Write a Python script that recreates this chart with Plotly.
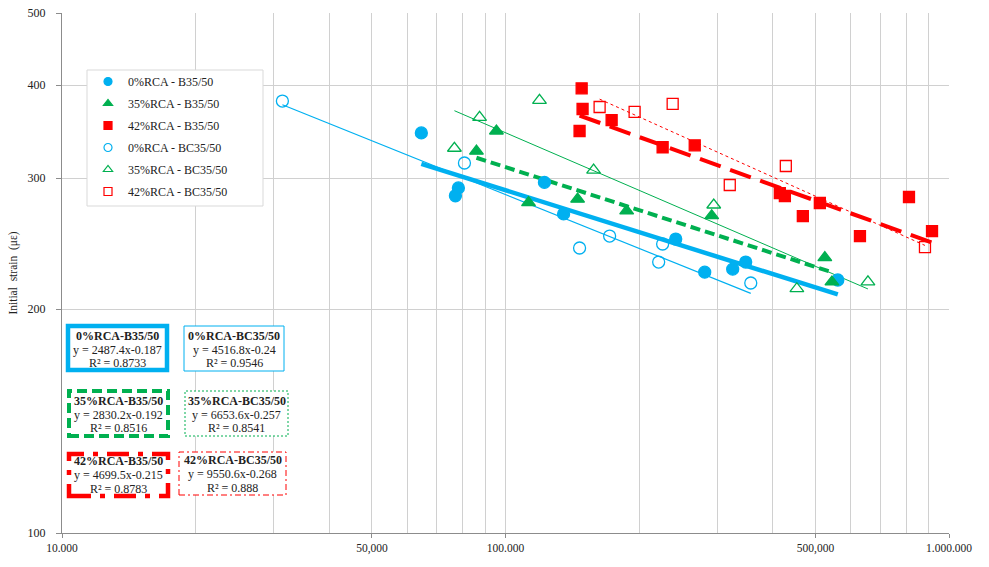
import numpy as np
import plotly.graph_objects as go

# ---------------- data ----------------
x_0B = [64600, 78300, 77100, 122400, 135200, 242000, 281300, 325300, 348000, 561400]
y_0B = [345, 291, 284, 296, 268.5, 248.4, 224.2, 226.3, 231.3, 218.8]

x_35B = [86000, 95400, 112700, 145400, 187600, 291700, 524800, 544500]
y_35B = [326, 347, 278, 281, 271, 267, 234.5, 217.5]

x_42B = [148500, 149200, 146900, 173500, 226100, 267100, 415500, 426500,
         511400, 468200, 629800, 812400, 915600]
y_42B = [396, 371.5, 347, 359, 330, 332, 286.4, 283.8, 277.7, 266.7, 250.7, 282.9, 254.6]

x_0BC = [31400, 80800, 146900, 171700, 226100, 221500, 357300]
y_0BC = [380.7, 314.3, 241.6, 250.7, 244.6, 231.3, 216.8]

x_35BC = [76700, 87400, 119300, 158000, 294800, 453900, 656500]
y_35BC = [329, 362, 381.5, 307.5, 276, 213, 217.6]

x_42BC = [163000, 195500, 238200, 320400, 428600, 882700]
y_42BC = [373.8, 368.1, 377.3, 293.6, 311.4, 242.3]

names = ["0%RCA - B35/50", "35%RCA - B35/50", "42%RCA - B35/50",
         "0%RCA - BC35/50", "35%RCA - BC35/50", "42%RCA - BC35/50"]
box_titles = ["0%RCA-B35/50", "0%RCA-BC35/50", "35%RCA-B35/50",
              "35%RCA-BC35/50", "42%RCA-B35/50", "42%RCA-BC35/50"]
# power trendline coefficients  y = a * x^b
coef_a = [2487.4, 2830.2, 4699.5, 4516.8, 6653.6, 9550.6]
coef_b = [-0.187, -0.192, -0.215, -0.24, -0.257, -0.268]
r2_text = ["0.8733", "0.8516", "0.8783", "0.9546", "0.8541", "0.888"]
eq_text = ["2487.4x-0.187", "2830.2x-0.192", "4699.5x-0.215",
           "4516.8x-0.24", "6653.6x-0.257", "9550.6x-0.268"]

x_tickvals = [10000, 50000, 100000, 500000, 1000000]
x_ticktext = ["10.000", "50,000", "100.000", "500,000", "1.000.000"]
x_minor = [20000, 30000, 40000, 60000, 70000, 80000, 90000,
           200000, 300000, 400000, 600000, 700000, 800000, 900000]
y_tickvals = [100, 200, 300, 400, 500]

# ---------------- style ----------------
BLUE, GREEN, RED = "#00B0F0", "#00B050", "#FF0000"
FONT = "Liberation Serif"
series = [
    (x_0B, y_0B, BLUE, "circle", 12, dict(width=4.5, dash="solid")),
    (x_35B, y_35B, GREEN, "triangle-up", 12, dict(width=4, dash="10px,5px")),
    (x_42B, y_42B, RED, "square", 11, dict(width=4, dash="22px,10px")),
    (x_0BC, y_0BC, BLUE, "circle-open", 12, dict(width=1.2, dash="solid")),
    (x_35BC, y_35BC, GREEN, "triangle-up-open", 12, dict(width=1, dash="solid")),
    (x_42BC, y_42BC, RED, "square-open", 11, dict(width=1, dash="3px,3px")),
]

fig = go.Figure()
# trendlines first (beneath markers)
for i, (xs, ys, col, sym, sz, ln) in enumerate(series):
    xe = np.array([min(xs), max(xs)], dtype=float)
    ye = coef_a[i] * xe ** coef_b[i]
    fig.add_trace(go.Scatter(x=xe, y=ye, mode="lines", showlegend=False,
                             line=dict(color=col, width=ln["width"], dash=ln["dash"]),
                             hoverinfo="skip"))
for i, (xs, ys, col, sym, sz, ln) in enumerate(series):
    fig.add_trace(go.Scatter(x=xs, y=ys, mode="markers", name=names[i],
                             legendgroup=str(i), showlegend=False,
                             marker=dict(symbol=sym, size=sz, color=col,
                                         line=dict(color=col, width=1.3))))
# legend entries (smaller symbols, like the reference)
for i, (xs, ys, col, sym, sz, ln) in enumerate(series):
    fig.add_trace(go.Scatter(x=[None], y=[None], mode="markers", name=names[i],
                             legendgroup=str(i), showlegend=True,
                             marker=dict(symbol=sym, size=8, color=col,
                                         line=dict(color=col, width=1.2))))

# ---------------- layout helpers (pixel -> paper) ----------------
L, R, T, B = 62, 949, 13, 533
def px(x):
    return (x - L) / (R - L)
def py(y):
    return (B - y) / (B - T)

shapes = []
# legend frame
shapes.append(dict(type="rect", xref="paper", yref="paper", layer="above",
                   x0=px(87), x1=px(263), y0=py(206), y1=py(70),
                   line=dict(color="#D9D9D9", width=1), fillcolor="white"))
# equation boxes: (x0, y0, x1, y1, color, width, dash, line-y positions)
boxes = [
    (68, 326, 167, 370, BLUE, 4.5, "solid", (336, 350, 363)),
    (184, 326, 284, 371, BLUE, 1, "solid", (336, 350, 363)),
    (69, 391, 168, 436, GREEN, 4, "10px,5px", (401, 415, 428)),
    (185, 391, 288, 436, GREEN, 1, "2px,2px", (401, 415, 428)),
    (69, 454, 168, 496, RED, 4.5, "22px,9px,5px,9px", (461, 475, 489)),
    (179, 452, 286, 495, RED, 1, "6px,3px,2px,3px", (460, 474, 488)),
]
box_series = [0, 3, 1, 4, 2, 5]
annotations = []
for k, (x0, y0, x1, y1, col, w, d, ly) in enumerate(boxes):
    shapes.append(dict(type="rect", xref="paper", yref="paper", layer="above",
                       x0=px(x0), x1=px(x1), y0=py(y1), y1=py(y0),
                       line=dict(color=col, width=w, dash=d), fillcolor="white"))
    s = box_series[k]
    lines = ["<b>" + box_titles[k] + "</b>", "y = " + eq_text[s], "R² = " + r2_text[s]]
    for t, yy in zip(lines, ly):
        annotations.append(dict(xref="paper", yref="paper", x=px((x0 + x1) / 2),
                                y=py(yy), text=t, showarrow=False,
                                xanchor="center", yanchor="middle", align="center",
                                font=dict(family=FONT, size=12, color="#222")))

fig.update_layout(
    width=989, height=567,
    margin=dict(l=L, r=989 - R, t=T, b=567 - B, autoexpand=False),
    paper_bgcolor="white", plot_bgcolor="white",
    font=dict(family=FONT, size=12, color="#222"),
    shapes=shapes, annotations=annotations,
    legend=dict(x=px(88), y=py(67), xanchor="left", yanchor="top",
                bgcolor="rgba(0,0,0,0)", borderwidth=0,
                traceorder="grouped", tracegroupgap=3,
                font=dict(family=FONT, size=12, color="#222")),
)
fig.update_xaxes(type="log", range=[4, 6], tickvals=x_tickvals, ticktext=x_ticktext,
                 showgrid=True, gridcolor="#D0D0D0", gridwidth=1,
                 minor=dict(tickvals=x_minor, showgrid=True, gridcolor="#D0D0D0",
                            gridwidth=1, ticks=""),
                 showline=True, linecolor="#8C8C8C", linewidth=1,
                 ticks="outside", ticklen=4, tickcolor="#8C8C8C",
                 tickfont=dict(family=FONT, size=11.5, color="#222"),
                 zeroline=False, automargin=False)
fig.update_yaxes(type="log", range=[2, np.log10(500)], tickvals=y_tickvals,
                 ticktext=[str(v) for v in y_tickvals],
                 showgrid=True, gridcolor="#D0D0D0", gridwidth=1,
                 showline=True, linecolor="#8C8C8C", linewidth=1,
                 ticks="outside", ticklen=5, tickcolor="#8C8C8C",
                 ticklabelstandoff=8,
                 tickfont=dict(family=FONT, size=12, color="#222"),
                 title=dict(text="Initial  strain  (με)", standoff=7,
                            font=dict(family=FONT, size=11.5, color="#222")),
                 zeroline=False, automargin=False)

fig.write_html("out.html")
